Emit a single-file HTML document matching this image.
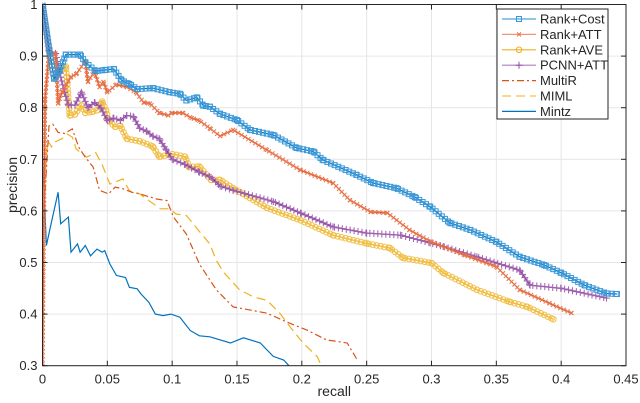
<!DOCTYPE html>
<html><head><meta charset="utf-8"><style>
body{margin:0;background:#fff;}
svg{display:block;font-family:"Liberation Sans",sans-serif;}
</style></head><body>
<svg id="chart" width="640" height="403"></svg>
<script>
const xTicks=[0,0.05,0.1,0.15,0.2,0.25,0.3,0.35,0.4,0.45];
const yTicks=[0.3,0.4,0.5,0.6,0.7,0.8,0.9,1];
const seriesNames=["Rank+Cost","Rank+ATT","Rank+AVE","PCNN+ATT","MultiR","MIML","Mintz"];
const rankCostR=[0,0.0054,0.009,0.013,0.018,0.024,0.029,0.033,0.041,0.048,0.055,0.061,0.067,0.073,0.085,0.098,0.106,0.111,0.119,0.124,0.129,0.137,0.15,0.16,0.178,0.196,0.209,0.216,0.242,0.255,0.273,0.287,0.299,0.314,0.33,0.35,0.368,0.387,0.4,0.418,0.435,0.443];
const rankCostP=[1,0.91,0.856,0.871,0.903,0.903,0.903,0.888,0.871,0.873,0.875,0.853,0.846,0.836,0.838,0.83,0.827,0.814,0.82,0.804,0.802,0.788,0.776,0.757,0.747,0.722,0.715,0.699,0.67,0.654,0.644,0.627,0.608,0.577,0.563,0.54,0.511,0.495,0.48,0.456,0.44,0.439];
const rankAttR=[0,0.002,0.005,0.01,0.012,0.015,0.022,0.026,0.033,0.035,0.04,0.044,0.047,0.05,0.057,0.065,0.072,0.078,0.083,0.09,0.097,0.1,0.108,0.115,0.121,0.129,0.137,0.147,0.173,0.199,0.224,0.237,0.253,0.266,0.283,0.3,0.326,0.35,0.368,0.391,0.408];
const rankAttP=[0.3,0.817,0.905,0.905,0.808,0.83,0.86,0.865,0.89,0.85,0.87,0.84,0.85,0.83,0.845,0.84,0.83,0.81,0.808,0.79,0.785,0.79,0.79,0.78,0.775,0.76,0.745,0.757,0.718,0.679,0.654,0.621,0.598,0.596,0.563,0.54,0.514,0.492,0.447,0.421,0.402];
const rankAveR=[0,0.005,0.009,0.013,0.018,0.021,0.025,0.03,0.033,0.038,0.042,0.046,0.049,0.051,0.056,0.06,0.065,0.075,0.085,0.09,0.1,0.11,0.113,0.121,0.13,0.137,0.147,0.173,0.199,0.224,0.25,0.268,0.278,0.3,0.309,0.335,0.36,0.374,0.394];
const rankAveP=[1,0.91,0.857,0.87,0.88,0.785,0.787,0.805,0.79,0.792,0.795,0.812,0.795,0.775,0.763,0.765,0.74,0.735,0.725,0.705,0.71,0.705,0.685,0.686,0.66,0.66,0.644,0.606,0.582,0.553,0.537,0.528,0.509,0.499,0.48,0.447,0.424,0.414,0.39];
const pcnnR=[0,0.005,0.01,0.013,0.017,0.02,0.025,0.03,0.035,0.04,0.045,0.05,0.055,0.06,0.065,0.07,0.075,0.08,0.085,0.09,0.095,0.1,0.11,0.121,0.13,0.137,0.147,0.178,0.199,0.224,0.25,0.276,0.299,0.309,0.335,0.368,0.376,0.4,0.435];
const pcnnP=[1,0.91,0.905,0.87,0.83,0.805,0.805,0.83,0.8,0.81,0.8,0.775,0.78,0.775,0.785,0.783,0.76,0.755,0.745,0.74,0.72,0.7,0.69,0.675,0.665,0.648,0.64,0.618,0.596,0.569,0.557,0.553,0.538,0.531,0.511,0.485,0.456,0.45,0.431];
const multiRR=[0,0.005,0.008,0.012,0.017,0.023,0.028,0.033,0.039,0.044,0.051,0.056,0.062,0.069,0.075,0.088,0.096,0.101,0.111,0.121,0.134,0.147,0.173,0.188,0.204,0.219,0.235,0.243];
const multiRP=[0.55,0.765,0.768,0.752,0.75,0.759,0.723,0.704,0.685,0.64,0.633,0.646,0.643,0.636,0.633,0.623,0.62,0.588,0.555,0.497,0.447,0.414,0.402,0.385,0.369,0.35,0.344,0.31];
const mimlR=[0,0.004,0.007,0.009,0.015,0.019,0.023,0.026,0.034,0.041,0.046,0.052,0.062,0.067,0.075,0.082,0.091,0.098,0.103,0.111,0.121,0.129,0.134,0.14,0.152,0.163,0.173,0.183,0.191,0.201,0.212,0.215];
const mimlP=[0.6,0.736,0.724,0.733,0.74,0.749,0.743,0.72,0.704,0.713,0.69,0.652,0.662,0.639,0.633,0.62,0.604,0.604,0.594,0.591,0.56,0.536,0.504,0.48,0.447,0.433,0.427,0.402,0.375,0.344,0.317,0.3];
const mintzR=[0,0.003,0.006,0.012,0.014,0.02,0.022,0.027,0.029,0.033,0.037,0.042,0.046,0.048,0.052,0.057,0.064,0.067,0.073,0.076,0.082,0.087,0.093,0.099,0.106,0.114,0.121,0.129,0.145,0.155,0.168,0.178,0.186,0.19];
const mintzP=[0.704,0.533,0.568,0.636,0.575,0.588,0.52,0.536,0.52,0.533,0.513,0.526,0.52,0.523,0.497,0.475,0.471,0.452,0.449,0.439,0.423,0.4,0.397,0.4,0.394,0.368,0.358,0.356,0.344,0.354,0.344,0.318,0.311,0.3];

const NS="http://www.w3.org/2000/svg";
const svg=document.getElementById('chart');
const L=42.5,R=626,T=4.5,B=365.7;
const X=v=>L+(v-0)/0.45*(R-L);
const Y=v=>B-(v-0.3)/0.7*(B-T);
function mk(tag,attrs,parent){const e=document.createElementNS(NS,tag);for(const k in attrs)e.setAttribute(k,attrs[k]);(parent||svg).appendChild(e);return e;}

const grid=mk('g',{});


xTicks.forEach(t=>{mk('line',{x1:X(t),x2:X(t),y1:T,y2:B,stroke:'#e6e6e6','stroke-width':1},grid);});
yTicks.forEach(t=>{mk('line',{x1:L,x2:R,y1:Y(t),y2:Y(t),stroke:'#e6e6e6','stroke-width':1},grid);});

const plot=mk('g',{});


const clip=mk('clipPath',{id:'cp'});mk('rect',{x:L,y:T-2,width:R-L,height:B-T+2},clip);

function series(name,rs,ps,color,dash,marker,mcolor){
  const g=mk('g',{'clip-path':'url(#cp)'},plot);
  
  
  const d=rs.map((r,i)=>(i?'L':'M')+X(r).toFixed(1)+' '+Y(ps[i]).toFixed(1)).join('');
  const p=mk('path',{d:d,fill:'none',stroke:color,'stroke-width':1.2,'stroke-dasharray':dash||'none'},g);
  if(marker){
    rs.forEach((r,i)=>drawMarker(g,marker,X(r),Y(ps[i]),mcolor));
    const len=p.getTotalLength();
    for(let s=2;s<len;s+=4){const pt=p.getPointAtLength(s);drawMarker(g,marker,pt.x,pt.y,mcolor);}
  }
}
function drawMarker(g,m,x,y,c){
  if(m==='s')mk('rect',{x:x-2.5,y:y-2.5,width:5,height:5,fill:'none',stroke:c,'stroke-width':1},g);
  else if(m==='o')mk('circle',{cx:x,cy:y,r:2.8,fill:'none',stroke:c,'stroke-width':1},g);
  else if(m==='x'){mk('path',{d:`M${x-2} ${y-2}L${x+2} ${y+2}M${x-2} ${y+2}L${x+2} ${y-2}`,stroke:c,'stroke-width':1},g);}
  else if(m==='+'){mk('path',{d:`M${x-3.5} ${y}L${x+3.5} ${y}M${x} ${y-3.5}L${x} ${y+3.5}`,stroke:c,'stroke-width':1},g);}
}
series('Mintz',mintzR,mintzP,'#0072BD');
series('MIML',mimlR,mimlP,'#EDB120','9 5');
series('MultiR',multiRR,multiRP,'#D95319','7 3 2 3');
series('Rank+AVE',rankAveR,rankAveP,'#EDB120',null,'o','#F2C04A');
series('PCNN+ATT',pcnnR,pcnnP,'#7E2F8E',null,'+','#A060B0');
series('Rank+ATT',rankAttR,rankAttP,'#D95319',null,'x','#E8734A');
series('Rank+Cost',rankCostR,rankCostP,'#0072BD',null,'s','#3A98D8');

const ax=mk('g',{});


mk('rect',{x:L,y:T,width:R-L,height:B-T,fill:'none',stroke:'#262626','stroke-width':1},ax);
xTicks.forEach(t=>{
  mk('line',{x1:X(t),x2:X(t),y1:B,y2:B-5,stroke:'#262626'},ax);
  mk('line',{x1:X(t),x2:X(t),y1:T,y2:T+5,stroke:'#262626'},ax);
  const tx=mk('text',{x:X(t),y:B+18,'text-anchor':'middle','font-size':13,fill:'#262626'},ax);
  tx.textContent=String(t);
  
  
});
yTicks.forEach(t=>{
  mk('line',{x1:L,x2:L+5,y1:Y(t),y2:Y(t),stroke:'#262626'},ax);
  mk('line',{x1:R,x2:R-5,y1:Y(t),y2:Y(t),stroke:'#262626'},ax);
  const tx=mk('text',{x:L-5,y:Y(t)+4.5,'text-anchor':'end','font-size':13,fill:'#262626'},ax);
  tx.textContent=String(t);
  
  
});
const xl=mk('text',{x:(L+R)/2,y:396,'text-anchor':'middle','font-size':14,fill:'#262626'});
xl.textContent='recall';


const yl=mk('text',{x:0,y:0,'text-anchor':'middle','font-size':14,fill:'#262626',transform:'translate(17,185) rotate(-90)'});
yl.textContent='precision';



const lg=mk('g',{});


mk('rect',{x:497,y:9,width:111,height:110,fill:'#fff',stroke:'#262626','stroke-width':1},lg);
const lgStyle=[['#4DA3DC',null,'s','#3A98D8'],['#F0957A',null,'x','#E8734A'],['#EDB120',null,'o','#EDB120'],['#B07CC0',null,'+','#9050A0'],['#D95319','7 3 2 3',null],['#F2C04A','9 5',null],['#0072BD',null,null]];
seriesNames.forEach((n,i)=>{
  const y=19+i*15.4;
  const e=mk('g',{},lg);
  
  
  const s=lgStyle[i];
  mk('line',{x1:502,x2:536,y1:y,y2:y,stroke:s[0],'stroke-width':1.2,'stroke-dasharray':s[1]||'none'},e);
  if(s[2])drawMarker(e,s[2],519,y,s[3]);
  const t=mk('text',{x:540,y:y+4.5,'font-size':13,fill:'#262626'},e);
  t.textContent=n;
});
</script>
</body></html>
